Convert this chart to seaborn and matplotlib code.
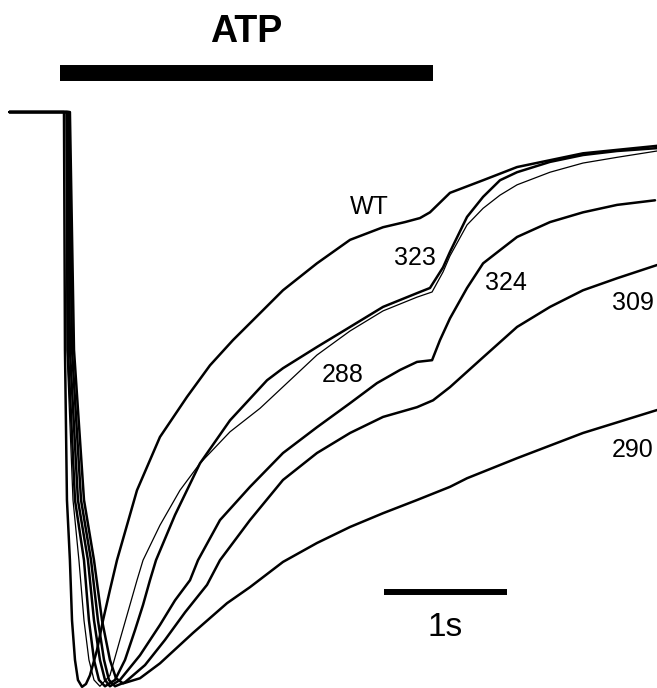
import numpy as np
import pandas as pd
import matplotlib
matplotlib.use("Agg")
import matplotlib.pyplot as plt
import seaborn as sns

# time in s, current normalised to peak (baseline 0, peak -1)
wt_t = [-0.45, -0.008, 0.0, 0.016, 0.040, 0.057, 0.081, 0.105, 0.138, 0.170, 0.202, 0.259, 0.308,
        0.364, 0.421, 0.583, 0.769, 0.988, 1.174, 1.360, 1.579, 1.765, 2.040, 2.308, 2.575, 2.753,
        2.874, 2.955, 3.117, 3.385, 3.660, 4.194, 4.793]
wt_i = [0, 0, -0.415, -0.677, -0.782, -0.887, -0.956, -0.991, -1.003, -0.998, -0.983, -0.939, -0.887,
        -0.834, -0.782, -0.660, -0.567, -0.497, -0.442, -0.398, -0.351, -0.311, -0.264, -0.223, -0.201,
        -0.192, -0.185, -0.175, -0.141, -0.119, -0.096, -0.072, -0.059]

m288_t = [-0.45, 0.008, 0.016, 0.065, 0.113, 0.154, 0.194, 0.235, 0.283, 0.364, 0.445, 0.526, 0.583,
          0.632, 0.769, 0.931, 1.093, 1.336, 1.579, 1.822, 2.040, 2.308, 2.575, 2.850, 2.972, 3.061,
          3.117, 3.255, 3.385, 3.522, 3.660, 3.927, 4.194, 4.470, 4.793]
m288_i = [0, 0, -0.415, -0.677, -0.782, -0.887, -0.956, -0.991, -1.002, -0.983, -0.921, -0.860, -0.817,
          -0.782, -0.721, -0.660, -0.613, -0.558, -0.517, -0.468, -0.424, -0.382, -0.347, -0.323, -0.314,
          -0.279, -0.251, -0.197, -0.168, -0.145, -0.127, -0.105, -0.089, -0.079, -0.068]

m323_t = [-0.45, 0.016, 0.024, 0.081, 0.154, 0.194, 0.235, 0.275, 0.324, 0.405, 0.486, 0.567, 0.632,
          0.688, 0.737, 0.891, 1.093, 1.336, 1.636, 1.765, 2.040, 2.308, 2.575, 2.850, 2.955, 3.061,
          3.117, 3.255, 3.385, 3.522, 3.660, 3.927, 4.194, 4.470, 4.793]
m323_i = [0, 0, -0.415, -0.677, -0.782, -0.887, -0.956, -0.991, -1.002, -0.991, -0.956, -0.904, -0.860,
          -0.817, -0.782, -0.703, -0.613, -0.538, -0.468, -0.447, -0.410, -0.375, -0.340, -0.316, -0.307,
          -0.271, -0.244, -0.183, -0.148, -0.119, -0.105, -0.087, -0.075, -0.068, -0.063]

m324_t = [-0.45, 0.024, 0.040, 0.105, 0.186, 0.235, 0.283, 0.324, 0.364, 0.445, 0.607, 0.769, 0.891,
          1.012, 1.077, 1.255, 1.498, 1.765, 2.040, 2.308, 2.526, 2.713, 2.850, 2.972, 3.036, 3.117,
          3.255, 3.385, 3.522, 3.660, 3.927, 4.194, 4.470, 4.777]
m324_i = [0, 0, -0.415, -0.677, -0.782, -0.887, -0.956, -0.991, -1.002, -0.991, -0.948, -0.895, -0.852,
          -0.817, -0.782, -0.712, -0.654, -0.595, -0.550, -0.508, -0.473, -0.450, -0.436, -0.433, -0.398,
          -0.360, -0.307, -0.264, -0.241, -0.218, -0.192, -0.175, -0.162, -0.154]

m309_t = [-0.45, 0.032, 0.057, 0.130, 0.211, 0.267, 0.316, 0.356, 0.405, 0.486, 0.648, 0.810, 0.972,
          1.150, 1.255, 1.498, 1.765, 2.040, 2.308, 2.575, 2.850, 2.980, 3.117, 3.385, 3.660, 3.927,
          4.194, 4.470, 4.793]
m309_i = [0, 0, -0.415, -0.677, -0.782, -0.887, -0.956, -0.991, -1.002, -0.995, -0.965, -0.921, -0.873,
          -0.825, -0.782, -0.712, -0.642, -0.595, -0.560, -0.532, -0.515, -0.503, -0.480, -0.428, -0.375,
          -0.340, -0.311, -0.290, -0.267]

m290_t = [-0.45, 0.040, 0.073, 0.154, 0.235, 0.300, 0.364, 0.413, 0.470, 0.607, 0.769, 1.036, 1.312,
          1.498, 1.765, 2.040, 2.308, 2.575, 2.850, 3.117, 3.255, 3.660, 4.194, 4.793]
m290_i = [0, 0, -0.415, -0.677, -0.782, -0.887, -0.956, -0.988, -0.997, -0.988, -0.962, -0.909, -0.857,
          -0.829, -0.785, -0.752, -0.724, -0.700, -0.677, -0.654, -0.639, -0.604, -0.560, -0.520]

traces = {"WT": (wt_t, wt_i), "323": (m323_t, m323_i), "288": (m288_t, m288_i),
          "324": (m324_t, m324_i), "309": (m309_t, m309_i), "290": (m290_t, m290_i)}

# label anchor points (t, i)
label_pos = {"WT": (2.46, -0.166), "323": (2.834, -0.255), "288": (2.251, -0.459),
             "324": (3.571, -0.298), "309": (4.599, -0.333), "290": (4.599, -0.590)}

atp_start, atp_end = -0.04, 2.98
scale_start, scale_len = 2.58, 1.0

rows = []
for name, (t, i) in traces.items():
    for a, b in zip(t, i):
        rows.append({"trace": name, "t": a, "i": b})
df = pd.DataFrame(rows)

sns.set_style("white")
plt.rcParams["font.family"] = ["Liberation Sans", "DejaVu Sans"]
plt.rcParams["text.color"] = "black"

fig = plt.figure(figsize=(6.57, 6.88), dpi=100)
ax = fig.add_axes([0, 0, 1, 1])

widths = {"288": 0.9}
for name in traces:
    sub = df[df["trace"] == name]
    sns.lineplot(data=sub, x="t", y="i", sort=False, estimator=None, color="black",
                 linewidth=widths.get(name, 1.8), ax=ax, legend=False)

for name, (x, y) in label_pos.items():
    ax.text(x, y, name, fontsize=18, ha="center", va="center", color="black")

# ATP application bar
ax.plot([atp_start, atp_end], [0.068, 0.068], color="black", linewidth=11.5, solid_capstyle="butt")
ax.text((atp_start + atp_end) / 2, 0.14, "ATP", fontsize=27, fontweight="bold",
        ha="center", va="center", color="black")

# time scale bar
ax.plot([scale_start, scale_start + scale_len], [-0.838, -0.838], color="black", linewidth=4.3,
        solid_capstyle="butt")
ax.text(scale_start + scale_len / 2, -0.90, "1s", fontsize=24, ha="center", va="center", color="black")

ax.set_xlim(-0.526, 4.793)
ax.set_ylim(-1.005, 0.1955)
ax.axis("off")

fig.savefig("out.png", dpi=100)
